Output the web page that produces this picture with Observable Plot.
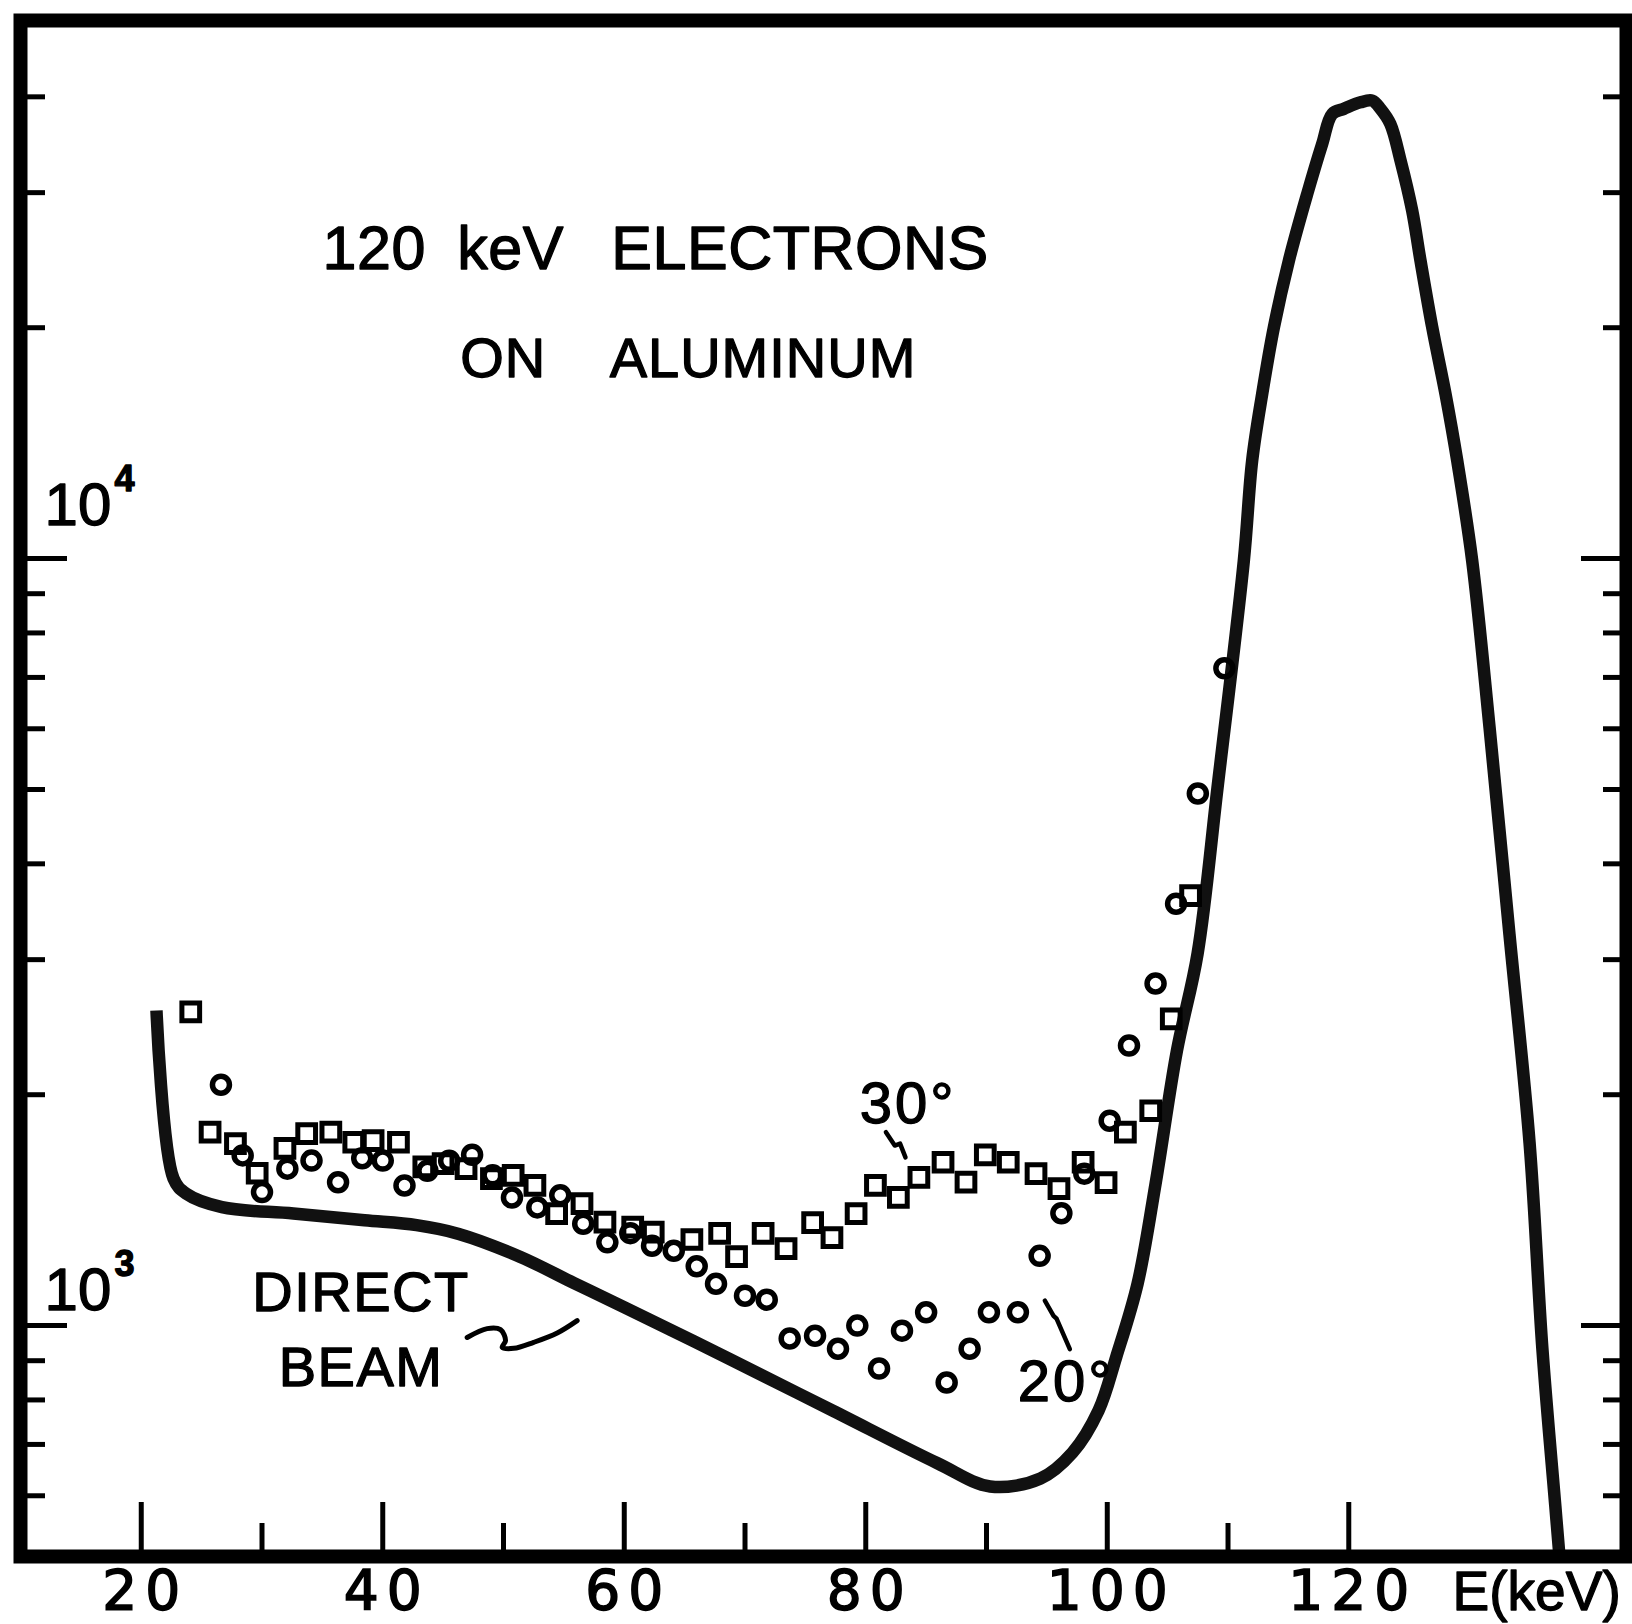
<!DOCTYPE html>
<html>
<head>
<meta charset="utf-8">
<script src="https://cdn.jsdelivr.net/npm/d3@7"></script>
<script src="https://cdn.jsdelivr.net/npm/@observablehq/plot@0.6"></script>
<style>
  html, body { margin: 0; padding: 0; background: #fff; }
  #chart svg { display: block; }
</style>
</head>
<body>
<div id="chart"></div>
<script>
// ---------- data ----------
// Direct beam spectrum (keV, counts)
const beamE = [21.26, 22.67, 23.72, 26.68, 32.60, 38.49, 42.8, 46.3, 51.4, 55.8, 60.1, 68.7, 77.3, 85.9, 90.3, 94.47, 97.12, 99.28, 100.74, 102.51, 104.0, 105.77, 107.48, 109.13, 111.31, 112.00, 112.83, 113.80, 115.04, 116.56, 117.80, 118.63, 119.59, 120.97, 121.94, 122.63, 123.44, 124.29, 125.25, 125.94, 126.91, 128.01, 128.98, 130.22, 131.66, 133.31, 134.97, 136.04, 137.1, 137.45];
const beamCounts = [2575, 1555, 1486, 1427, 1400, 1372, 1352, 1317, 1229, 1137, 1055, 905, 774, 662, 617, 632, 683, 775, 910, 1134, 1531, 2283, 3055, 5027, 9940, 13420, 16395, 20030, 24460, 29890, 34730, 38000, 38580, 39350, 39550, 38580, 36880, 33030, 28430, 24460, 20030, 16395, 13420, 9940, 6022, 3234, 1733, 930, 583, 500];

// 30 degree scattering (squares)
const deg30E = [24.1, 25.7, 27.8, 29.6, 31.9, 33.7, 35.7, 37.6, 39.2, 41.3, 43.4, 45.0, 46.9, 49.0, 50.8, 52.6, 54.4, 56.5, 58.4, 60.7, 62.4, 65.6, 67.9, 69.3, 71.5, 73.4, 75.6, 77.2, 79.2, 80.8, 82.7, 84.4, 86.4, 88.3, 89.9, 91.8, 94.1, 96.0, 98.0, 99.9, 101.5, 103.6, 105.3, 106.9];
const deg30Counts = [2565, 1787, 1727, 1580, 1702, 1779, 1787, 1734, 1742, 1734, 1610, 1626, 1602, 1555, 1570, 1523, 1400, 1442, 1364, 1344, 1324, 1295, 1319, 1230, 1319, 1260, 1362, 1302, 1400, 1523, 1470, 1560, 1633, 1538, 1670, 1633, 1578, 1509, 1633, 1536, 1787, 1906, 2512, 3635];

// 20 degree scattering (circles)
const deg20E = [26.6, 28.4, 30.0, 32.1, 34.1, 36.3, 38.3, 40.0, 41.8, 43.7, 45.5, 47.4, 49.1, 50.7, 52.8, 54.7, 56.6, 58.6, 60.5, 62.3, 64.1, 66.0, 67.6, 70.0, 71.8, 73.7, 75.8, 77.7, 79.3, 81.1, 83.0, 85.0, 86.7, 88.6, 90.2, 92.6, 94.4, 96.2, 98.1, 100.2, 101.8, 104.0, 105.7, 107.5, 109.7];
const deg20Counts = [2061, 1667, 1493, 1602, 1641, 1538, 1653, 1641, 1523, 1592, 1640, 1670, 1570, 1469, 1426, 1479, 1358, 1284, 1320, 1271, 1252, 1195, 1134, 1094, 1081, 962, 970, 933, 1000, 879, 985, 1041, 843, 933, 1041, 1041, 1233, 1401, 1578, 1850, 2318, 2793, 3549, 4940, 7195];

// Ticks and axis texts
const xMajorTicks = [20, 40, 60, 80, 100, 120];
const xMinorTicks = [30, 50, 70, 90, 110];
const yShortTicks = [600, 700, 800, 900, 2000, 3000, 4000, 5000, 6000, 7000, 8000, 9000, 20000, 30000, 40000];
const yLongTicks = [1000, 10000];
const decadeBase = ["10", "10"];
const decadeExp = ["4", "3"];
const decadeE = [11.99, 11.99];
const decadeCounts = [11075, 1049];
const xAxisTitle = ["E(keV)"];
const xAxisTitleE = [128.6];
const xAxisTitleCounts = [426];

// Annotations
const titleLines = ["120 keV ELECTRONS", "ON ALUMINUM"];
const titleE = [62.6, 65.3];
const titleCounts = [23880, 17275];
const beamLabel = ["DIRECT", "BEAM"];
const beamLabelE = [38.2, 38.2];
const beamLabelCounts = [1046, 835];
const angleLabels = ["30°", "20°"];
const angleLabelE = [83.5, 96.6];
const angleLabelCounts = [1839, 798];

// Leader squiggles
const leader30E = [81.67, 82.40, 82.84, 83.29];
const leader30Counts = [1787, 1717, 1727, 1657];
const leader20E = [94.83, 95.55, 95.80, 96.90];
const leader20Counts = [1078, 1030, 1021, 932];
const beamLeaderE = [46.99, 48.65, 49.75, 50.17, 49.89, 50.85, 52.50, 54.45, 56.10];
const beamLeaderCounts = [965, 991, 988, 956, 937, 934, 951, 978, 1015];

// ---------- build tables ----------
const zipPts = (xs, ys) => xs.map((x, i) => ({x, y: ys[i]}));
const beam = zipPts(beamE, beamCounts);
const sq30 = zipPts(deg30E, deg30Counts);
const ci20 = zipPts(deg20E, deg20Counts);
const lead30 = zipPts(leader30E, leader30Counts);
const lead20 = zipPts(leader20E, leader20Counts);
const leadBeam = zipPts(beamLeaderE, beamLeaderCounts);
const txt = (labels, xs, ys) => labels.map((t, i) => ({t, x: xs[i], y: ys[i]}));
const titleRows = txt(titleLines, titleE, titleCounts);
const beamRows = txt(beamLabel, beamLabelE, beamLabelCounts);
const angleRows = txt(angleLabels, angleLabelE, angleLabelCounts);
const decadeRows = txt(decadeBase, decadeE, decadeCounts);
const expRows = txt(decadeExp, decadeE, decadeCounts);
const xTitleRows = txt(xAxisTitle, xAxisTitleE, xAxisTitleCounts);

const FONT = "'Liberation Sans', Arial, Helvetica, sans-serif";
const WIDE = "'DejaVu Sans', Verdana, sans-serif";
const tickOpts = {tickFormat: () => "", fill: "none", label: null, strokeWidth: 5};
const textOpts = {x: "x", y: "y", text: "t", lineAnchor: "bottom", fill: "black",
                  stroke: "black", strokeWidth: 1.3, fontFamily: FONT};

const chart = Plot.plot({
  width: 1632,
  height: 1624,
  marginLeft: 20,
  marginRight: 6,
  marginTop: 20,
  marginBottom: 68,
  style: {background: "#fff", color: "#000", fontFamily: FONT},
  x: {domain: [10, 143]},
  y: {type: "log", domain: [500, 50300]},
  marks: [
    // inward ticks
    Plot.axisX({...tickOpts, ticks: xMajorTicks, tickSize: -54}),
    Plot.axisX({...tickOpts, ticks: xMinorTicks, tickSize: -33}),
    Plot.axisY({...tickOpts, anchor: "left", ticks: yShortTicks, tickSize: -25}),
    Plot.axisY({...tickOpts, anchor: "left", ticks: yLongTicks, tickSize: -47}),
    Plot.axisY({...tickOpts, anchor: "right", ticks: yShortTicks, tickSize: -24}),
    Plot.axisY({...tickOpts, anchor: "right", ticks: yLongTicks, tickSize: -46}),
    // x tick labels below the frame
    Plot.axisX({ticks: xMajorTicks, tickSize: 0, tickPadding: 13, fontSize: 55, label: null,
                tickFormat: d3.format("d"), fontFamily: WIDE}),
    Plot.text(xTitleRows, {...textOpts, textAnchor: "start", fontSize: 55}),
    // y decade labels
    Plot.text(decadeRows, {...textOpts, textAnchor: "start", fontSize: 60}),
    Plot.text(expRows, {...textOpts, textAnchor: "start", fontSize: 36, fontWeight: "bold", dx: 70, dy: -34}),
    // direct beam curve
    Plot.line(beam, {x: "x", y: "y", stroke: "#111", strokeWidth: 12.5, curve: "catmull-rom", strokeLinejoin: "round", strokeLinecap: "butt"}),
    // scattered data
    Plot.dot(sq30, {x: "x", y: "y", symbol: "square", r: 10, stroke: "black", strokeWidth: 5, fill: "none"}),
    Plot.dot(ci20, {x: "x", y: "y", symbol: "circle", r: 8.5, stroke: "black", strokeWidth: 5.5, fill: "none"}),
    // leaders
    Plot.line(lead30, {x: "x", y: "y", stroke: "black", strokeWidth: 4.5, strokeLinecap: "round"}),
    Plot.line(lead20, {x: "x", y: "y", stroke: "black", strokeWidth: 4.5, strokeLinecap: "round"}),
    Plot.line(leadBeam, {x: "x", y: "y", stroke: "black", strokeWidth: 5, curve: "catmull-rom", strokeLinecap: "round"}),
    // annotations
    Plot.text([titleRows[0]], {...textOpts, textAnchor: "middle", fontSize: 61}),
    Plot.text([titleRows[1]], {...textOpts, textAnchor: "middle", fontSize: 56}),
    Plot.text(beamRows, {...textOpts, textAnchor: "middle", fontSize: 56}),
    Plot.text(angleRows, {...textOpts, textAnchor: "middle", fontSize: 58}),
    // frame
    Plot.frame({stroke: "black", strokeWidth: 14})
  ]
});

document.getElementById("chart").append(chart);

// spacing to mimic the stencil lettering (select texts by their content)
const s = d3.select(chart);
const byText = (list) => s.selectAll("text").filter(function() {
  return list.includes(this.textContent);
});
function spreadWords(sel, gaps) {
  sel.each(function() {
    const el = d3.select(this);
    const words = el.text().split(" ");
    el.text(null);
    words.forEach((w, i) => {
      const t = el.append("tspan").text(i ? " " + w : w);
      if (i) t.attr("dx", gaps[i - 1]);
    });
  });
}
byText(xMajorTicks.map(String))
  .style("font-family", WIDE).style("font-weight", "normal")
  .attr("stroke", "black").attr("stroke-width", 1.6)
  .style("letter-spacing", "8px").attr("dx", 4);
byText([titleLines[0]]).style("letter-spacing", "0.5px").call(spreadWords, [14, 30]);
byText([titleLines[1]]).style("letter-spacing", "1px").call(spreadWords, [50]);
byText(beamLabel).style("letter-spacing", "1.5px");
byText(angleLabels).style("letter-spacing", "3px");
</script>
</body>
</html>
